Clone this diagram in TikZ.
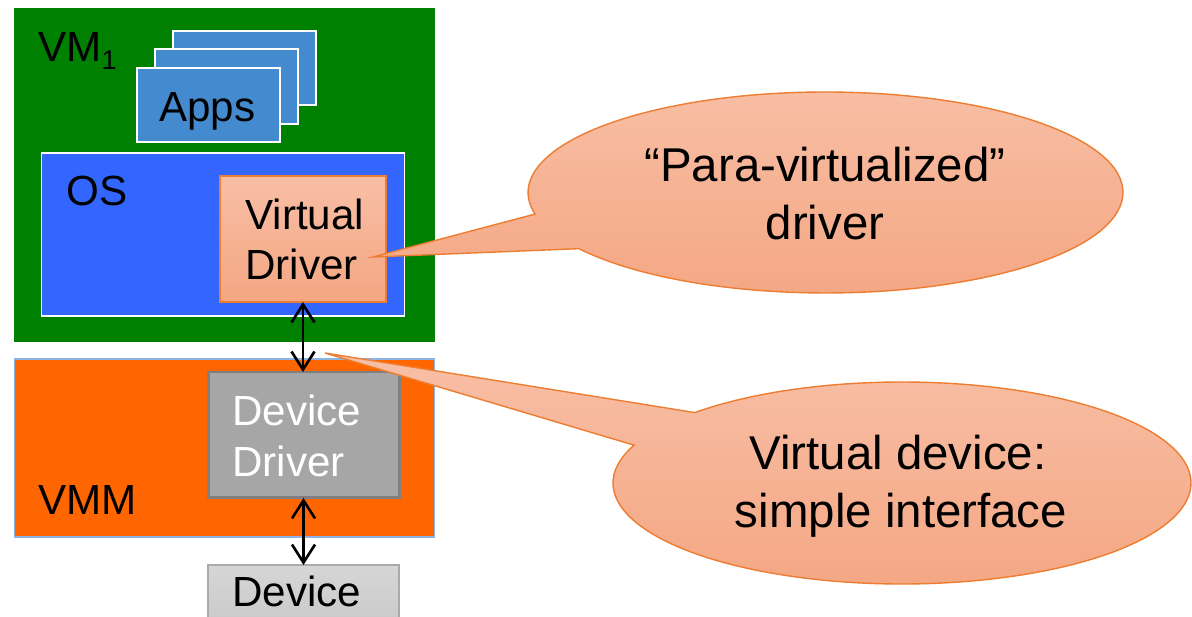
\documentclass[tikz,border=0pt]{standalone}
\usepackage{fontspec}
\setmainfont{Liberation Sans}
\usetikzlibrary{arrows.meta,calc}

\definecolor{vmgreen}{RGB}{0,128,0}
\definecolor{appblue}{RGB}{68,138,206}
\definecolor{osblue}{RGB}{51,102,255}
\definecolor{saltop}{RGB}{248,191,166}
\definecolor{salbot}{RGB}{244,166,130}
\definecolor{calloutline}{RGB}{237,125,49}
\definecolor{vmmorange}{RGB}{255,102,0}
\definecolor{vmmedge}{RGB}{141,180,226}
\definecolor{ddgray}{RGB}{166,166,166}
\definecolor{ddedge}{RGB}{127,127,127}
\definecolor{devtop}{RGB}{214,214,214}
\definecolor{devbot}{RGB}{200,200,200}
\definecolor{devedge}{RGB}{170,170,170}

\begin{document}
\begin{tikzpicture}[x=0.02cm,y=0.02cm,
  box/.style={inner sep=0pt, outer sep=0pt},
  appcard/.style={box, fill=appblue, draw=white, line width=0.9pt,
    minimum width=2.86cm, minimum height=1.49cm},
  lbl/.style={inner sep=0pt, anchor=base west, font=\fontsize{24pt}{28pt}\selectfont},
  bubbletext/.style={inner sep=0pt, anchor=base, font=\fontsize{27pt}{33pt}\selectfont},
  link/.style={line width=1.5pt,
    {Straight Barb[length=0.36cm,width=0.46cm]}-{Straight Barb[length=0.36cm,width=0.46cm]}},
  bubble/.style={draw=calloutline, line width=0.8pt, top color=saltop, bottom color=salbot},
]
\clip (0,0) rectangle (1192,617);
\fill[white] (0,0) rectangle (1192,617);

% guest virtual machine
\node[box, fill=vmgreen, minimum width=8.42cm, minimum height=6.68cm] (vm) at (224.5,442) {};
\node[lbl] (vmlabel) at (38,555) {VM\raisebox{-4pt}{\fontsize{15.5pt}{15.5pt}\selectfont 1}};

% stacked application cards
\node[appcard] (appsC) at (244.5,549) {};
\node[appcard] (appsB) at (226.5,530.5) {};
\node[appcard] (appsA) at (208.5,512) {};
\node[lbl] (appslabel) at (159,495) {Apps};

% guest operating system with its driver
\node[box, fill=osblue, draw=white, line width=0.6pt, minimum width=7.28cm, minimum height=3.26cm] (os) at (223,382.5) {};
\node[lbl] (oslabel) at (66,411) {OS};
\node[box, top color=saltop, bottom color=salbot, draw=calloutline, line width=1pt,
  minimum width=3.32cm, minimum height=2.52cm] (vdrv) at (303,378) {};
\node[lbl] (vdrv1) at (245,387) {Virtual};
\node[lbl] (vdrv2) at (245,337) {Driver};

% monitor with the real driver
\node[box, fill=vmmorange, draw=vmmedge, line width=0.6pt, minimum width=8.42cm, minimum height=3.56cm] (vmm) at (224.5,169) {};
\node[lbl] (vmmlabel) at (38,102) {VMM};
\node[box, fill=ddgray, draw=ddedge, line width=1.7pt, minimum width=3.84cm, minimum height=2.52cm] (ddrv) at (304,182) {};
\node[lbl, text=white] (ddrv1) at (232,191) {Device};
\node[lbl, text=white] (ddrv2) at (232,140) {Driver};

% physical device
\node[box, top color=devtop, bottom color=devbot, draw=devedge, line width=0.8pt,
  minimum width=3.82cm, minimum height=1.32cm] (dev) at (303.5,19) {};
\node[lbl] (devlabel) at (232,10) {Device};

% links between the layers
\draw[link] (vdrv.south) -- (vdrv.south |- ddrv.north);
\draw[link] (dev.north |- ddrv.south) -- (dev.north);

% callout pointers
\coordinate (tipA) at (373,360);
\coordinate (tipB) at (325,264);
\coordinate (ctrA) at (825.5,424.5);
\coordinate (ctrB) at (902,134);

% callout: para-virtualized driver
\shadedraw[bubble] ($(ctrA)+(214:5.95cm and 2.01cm)$)
  arc[start angle=214, end angle=552.4, x radius=5.95cm, y radius=2.01cm]
  -- (tipA) -- cycle;
\node[bubbletext] (calloutA1) at (825,435) {“Para-virtualized”};
\node[bubbletext] (calloutA2) at (825,377) {driver};

% callout: virtual device interface
\shadedraw[bubble] ($(ctrB)+(135.8:5.78cm and 2.02cm)$) -- (tipB)
  -- ($(ctrB)+(158:5.78cm and 2.02cm)$)
  arc[start angle=158, end angle=495.8, x radius=5.78cm, y radius=2.02cm]
  -- cycle;
\node[bubbletext] (calloutB1) at (898,147) {Virtual device:};
\node[bubbletext] (calloutB2) at (901,89) {simple interface};
\end{tikzpicture}
\end{document}
